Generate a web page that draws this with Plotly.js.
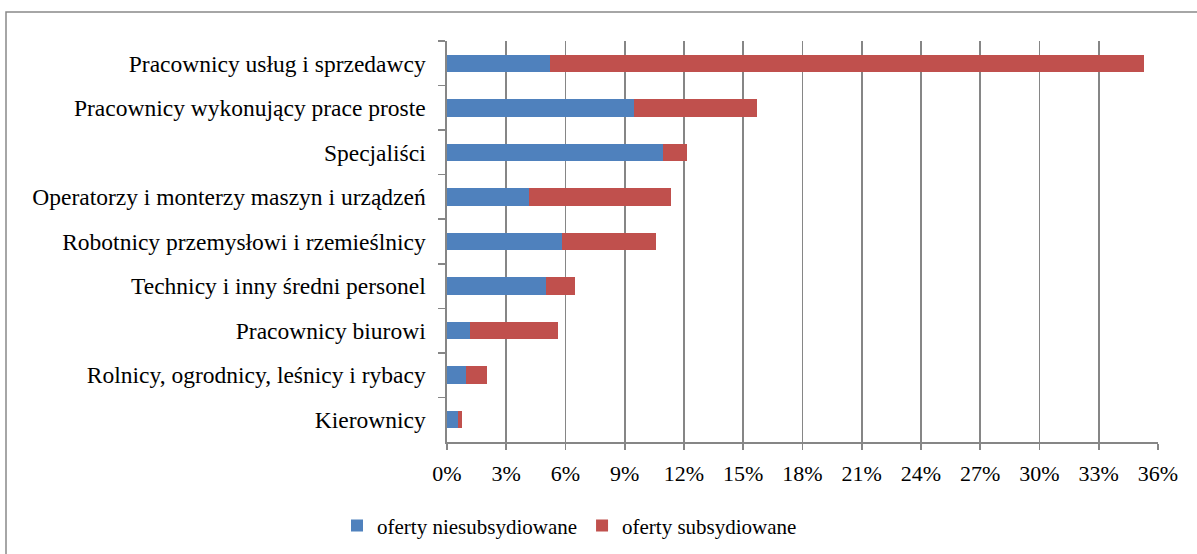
<!DOCTYPE html>
<html>
<head>
<meta charset="utf-8">
<script src="https://cdn.plot.ly/plotly-3.0.1.min.js"></script>
<style>
html,body{margin:0;padding:0;background:#fff;}
#chart{width:1197px;height:554px;}
</style>
</head>
<body>
<div id="chart"></div>
<script>
// Categories (top to bottom as in reference)
const categories = [
  "Pracownicy usług i sprzedawcy",
  "Pracownicy wykonujący prace proste",
  "Specjaliści",
  "Operatorzy i monterzy maszyn i urządzeń",
  "Robotnicy przemysłowi i rzemieślnicy",
  "Technicy i inny średni personel",
  "Pracownicy biurowi",
  "Rolnicy, ogrodnicy, leśnicy i rybacy",
  "Kierownicy"
];
// Shares in percent
const niesubsydiowane = [5.22, 9.46, 10.95, 4.14, 5.80, 5.02, 1.17, 0.95, 0.56];
const subsydiowane    = [30.05, 6.24, 1.18, 7.20, 4.76, 1.47, 4.44, 1.10, 0.20];
const seriesNames = ["oferty niesubsydiowane", "oferty subsydiowane"];
const tickValues = [0, 3, 6, 9, 12, 15, 18, 21, 24, 27, 30, 33, 36];
const tickLabels = ["0%", "3%", "6%", "9%", "12%", "15%", "18%", "21%", "24%", "27%", "30%", "33%", "36%"];

const W = 1197, H = 554;
const M = {l: 447, r: 39, t: 40.5, b: 112, autoexpand: false};
const pw = W - M.l - M.r, ph = H - M.t - M.b;
const px2x = p => (p - M.l) / pw;
const py2y = p => (H - M.b - p) / ph;

const font = "'Liberation Serif', 'Times New Roman', serif";

const traces = [
  {type: "bar", orientation: "h", name: seriesNames[0], y: categories, x: niesubsydiowane,
   marker: {color: "#4F81BD"}},
  {type: "bar", orientation: "h", name: seriesNames[1], y: categories, x: subsydiowane,
   marker: {color: "#C0504D"}}
];

const layout = {
  width: W, height: H,
  margin: M,
  paper_bgcolor: "#fff", plot_bgcolor: "#fff",
  barmode: "stack",
  bargap: 0.61,
  font: {family: font, color: "#000", size: 22},
  xaxis: {
    range: [0, 36], tickvals: tickValues, ticktext: tickLabels,
    showgrid: true, gridcolor: "#868686", gridwidth: 1.6,
    showline: true, linecolor: "#868686", linewidth: 1.6,
    ticks: "outside", ticklen: 6, tickcolor: "#868686", tickwidth: 1.6,
    ticklabelstandoff: 5,
    tickfont: {size: 22, family: font}, zeroline: false, fixedrange: true
  },
  yaxis: {
    type: "category", autorange: "reversed",
    showline: true, linecolor: "#868686", linewidth: 1.6,
    ticks: "outside", ticklen: 7, tickcolor: "#868686", tickwidth: 1.6,
    tickson: "boundaries", ticklabelstandoff: 15,
    showgrid: false, tickfont: {size: 23.5, family: font}, fixedrange: true
  },
  showlegend: true,
  legend: {
    orientation: "h", x: px2x(337), xanchor: "left", y: py2y(526), yanchor: "middle",
    font: {size: 21, family: font}, traceorder: "normal",
    itemwidth: 30
  },
  shapes: [
    {type: "rect", xref: "paper", yref: "paper",
     x0: px2x(6), x1: px2x(1210), y0: py2y(570), y1: py2y(11.5),
     line: {color: "#898989", width: 1.5}, fillcolor: "rgba(0,0,0,0)", layer: "below"}
  ]
};

Plotly.newPlot("chart", traces, layout, {displayModeBar: false, staticPlot: true});
</script>
</body>
</html>
